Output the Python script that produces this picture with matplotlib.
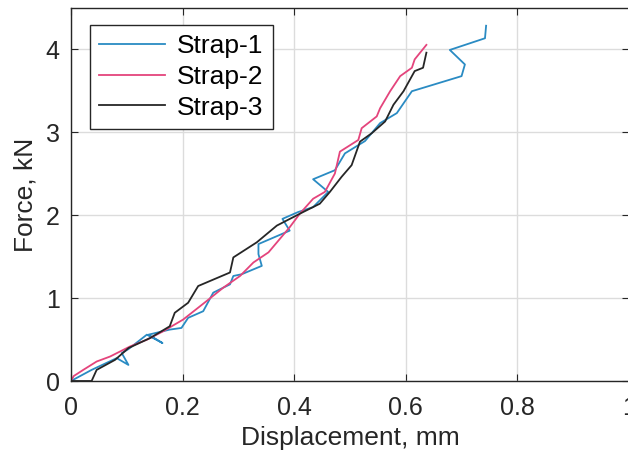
import matplotlib.pyplot as plt

plt.rcParams['font.family'] = ['Liberation Sans', 'DejaVu Sans']

# Strap-1 (blue)
x1 = [0.0, 0.037, 0.082, 0.103, 0.091, 0.103, 0.136, 0.164, 0.139, 0.177, 0.198,
      0.210, 0.237, 0.255, 0.285, 0.291, 0.306, 0.342, 0.336, 0.336, 0.392, 0.379,
      0.407, 0.434, 0.461, 0.434, 0.473, 0.491, 0.527, 0.554, 0.584, 0.611, 0.700,
      0.706, 0.679, 0.742, 0.744]
y1 = [0.0, 0.134, 0.276, 0.194, 0.337, 0.385, 0.559, 0.458, 0.559, 0.620, 0.640,
      0.762, 0.842, 1.066, 1.166, 1.267, 1.288, 1.389, 1.531, 1.652, 1.814, 1.956,
      2.038, 2.098, 2.281, 2.434, 2.543, 2.746, 2.895, 3.111, 3.232, 3.496, 3.678,
      3.819, 3.994, 4.135, 4.286]

# Strap-2 (pink)
x2 = [0.0, 0.005, 0.022, 0.046, 0.070, 0.106, 0.136, 0.165, 0.201, 0.243, 0.273,
      0.303, 0.327, 0.354, 0.392, 0.410, 0.434, 0.455, 0.473, 0.482, 0.515, 0.521,
      0.548, 0.554, 0.572, 0.590, 0.611, 0.616, 0.637]
y2 = [0.0, 0.06, 0.134, 0.235, 0.295, 0.417, 0.498, 0.599, 0.741, 0.964, 1.126,
      1.267, 1.430, 1.552, 1.855, 2.017, 2.199, 2.281, 2.503, 2.767, 2.908, 3.050,
      3.192, 3.29, 3.496, 3.678, 3.779, 3.880, 4.055]

# Strap-3 (black)
x3 = [0.0, 0.037, 0.046, 0.079, 0.103, 0.142, 0.177, 0.186, 0.210, 0.228, 0.285,
      0.291, 0.333, 0.369, 0.416, 0.446, 0.464, 0.485, 0.503, 0.518, 0.539, 0.563,
      0.578, 0.596, 0.616, 0.631, 0.637]
y3 = [0.0, 0.0, 0.134, 0.255, 0.397, 0.519, 0.660, 0.823, 0.944, 1.146, 1.309,
      1.491, 1.673, 1.875, 2.038, 2.139, 2.281, 2.463, 2.604, 2.888, 2.989, 3.131,
      3.333, 3.496, 3.739, 3.779, 3.961]

labels = ["Strap-1", "Strap-2", "Strap-3"]
colors = ["#2a8bc3", "#e4447c", "#262626"]

fig = plt.figure(figsize=(6.28, 4.57), dpi=100)
ax = fig.add_axes([0.113, 0.1663, 0.8885, 0.8162])

for xs, ys, lab, c in zip([x1, x2, x3], [y1, y2, y3], labels, colors):
    ax.plot(xs, ys, color=c, lw=1.3, label=lab)

ax.set_xlim(0, 1)
ax.set_ylim(0, 4.5)
ax.set_xticks([0, 0.2, 0.4, 0.6, 0.8, 1])
ax.set_xticklabels(["0", "0.2", "0.4", "0.6", "0.8", "1"])
ax.set_yticks([0, 1, 2, 3, 4])
ax.grid(True, color="#dcdcdc", lw=1.0)
ax.tick_params(direction="in", top=True, right=True, labelsize=18, length=5,
               color="#262626", labelcolor="#262626")
ax.tick_params(axis="x", pad=11)
ax.tick_params(axis="y", pad=8)
for s in ax.spines.values():
    s.set_color("#262626")
    s.set_linewidth(1.0)

ax.set_xlabel("Displacement, mm", fontsize=19, color="#262626", labelpad=4)
ax.set_ylabel("Force, kN", fontsize=19, color="#262626", labelpad=6)

leg = ax.legend(loc="upper left", bbox_to_anchor=(0.034, 0.954), fontsize=19,
                borderaxespad=0, fancybox=False, edgecolor="#262626",
                framealpha=1, handlelength=2.5, handletextpad=0.45,
                labelspacing=0.25, borderpad=0.35)
leg.get_frame().set_linewidth(1.0)

fig.savefig("out.png", dpi=100)
